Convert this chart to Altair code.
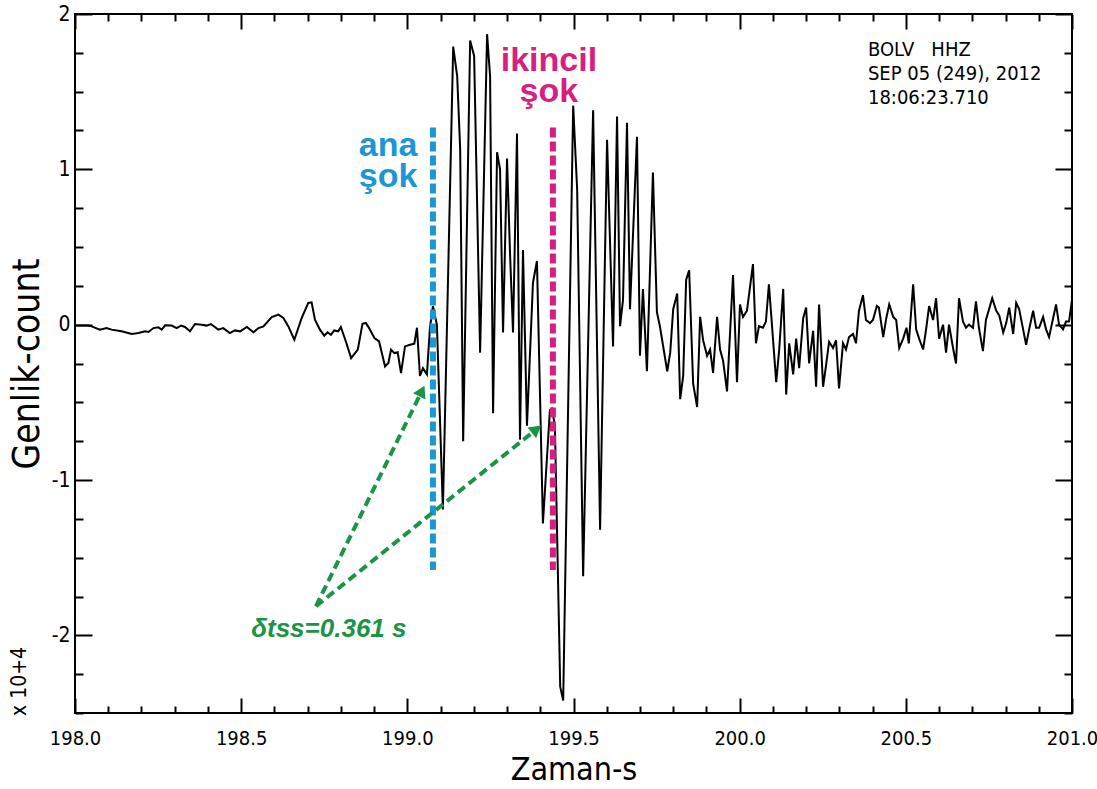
import math
import altair as alt
import pandas as pd

# Seismogram samples: time (s) and amplitude (x 10^4 counts)
TIME = [
    198.000, 198.040, 198.050, 198.075, 198.095, 198.110, 198.140, 198.171, 198.191, 198.211,
    198.221, 198.236, 198.251, 198.261, 198.271, 198.291, 198.306, 198.319, 198.331, 198.346,
    198.361, 198.381, 198.396, 198.409, 198.431, 198.446, 198.466, 198.481, 198.497, 198.517,
    198.537, 198.552, 198.567, 198.592, 198.612, 198.627, 198.642, 198.660, 198.682, 198.702,
    198.712, 198.722, 198.737, 198.750, 198.760, 198.770, 198.780, 198.792, 198.800, 198.815,
    198.831, 198.851, 198.865, 198.875, 198.885, 198.901, 198.915, 198.933, 198.943, 198.951,
    198.961, 198.971, 198.981, 198.993, 199.008, 199.021,
    199.029, 199.038, 199.047, 199.059, 199.068, 199.077, 199.089, 199.107, 199.138, 199.150,
    199.159, 199.168, 199.189, 199.201, 199.219, 199.240, 199.249, 199.258, 199.270, 199.279,
    199.288, 199.300, 199.309, 199.318, 199.330, 199.339, 199.348, 199.360, 199.378, 199.390,
    199.408, 199.429, 199.435, 199.444, 199.460, 199.469, 199.499, 199.511, 199.529, 199.559,
    199.580, 199.601, 199.619, 199.631, 199.640, 199.649, 199.661, 199.670, 199.691, 199.700,
    199.709, 199.721, 199.739, 199.751, 199.760, 199.782, 199.791, 199.800, 199.812, 199.821,
    199.830, 199.839, 199.848, 199.860, 199.872, 199.881, 199.890, 199.902, 199.911, 199.920,
    199.932, 199.941, 199.950, 199.962, 199.980, 199.992, 200.001, 200.010, 200.022, 200.040,
    200.049,
    200.058, 200.070, 200.079, 200.088, 200.110, 200.119, 200.131, 200.140, 200.149, 200.161,
    200.170, 200.179, 200.191, 200.200, 200.209, 200.221, 200.230, 200.239, 200.251, 200.260,
    200.269, 200.281, 200.290, 200.299, 200.311, 200.320, 200.329, 200.341, 200.350, 200.359,
    200.371, 200.380, 200.392, 200.401, 200.413, 200.419, 200.432, 200.441, 200.450, 200.462,
    200.471, 200.480, 200.492, 200.502, 200.509, 200.522, 200.531, 200.540, 200.552, 200.561,
    200.570, 200.582, 200.591, 200.600, 200.612, 200.621, 200.630, 200.642, 200.651, 200.660,
    200.672, 200.681, 200.690, 200.702, 200.711, 200.720, 200.732, 200.741, 200.760, 200.772,
    200.781, 200.793, 200.802, 200.811, 200.823, 200.832, 200.841, 200.862, 200.871, 200.883,
    200.892, 200.901, 200.913, 200.922, 200.931, 200.952, 200.961, 200.973, 200.982, 200.991,
    201.000,
]
AMP = [
    -0.006, -0.006, -0.011, -0.032, -0.022, -0.032, -0.043, -0.060, -0.054, -0.043,
    -0.047, -0.022, -0.017, -0.032, -0.004, -0.006, -0.022, -0.006, -0.015, -0.043,
    0.004, 0.000, -0.006, 0.004, -0.032, -0.022, -0.054, -0.037, -0.043, -0.015,
    -0.049, -0.022, -0.011, 0.049, 0.065, 0.043, -0.011, -0.097, 0.043, 0.140,
    0.144, 0.032, -0.032, -0.071, -0.049, -0.065, -0.037, -0.043, -0.015, -0.108,
    -0.215, -0.161, 0.006, 0.011, -0.022, -0.086, -0.108, -0.269, -0.247, -0.161,
    -0.183, -0.178, -0.312, -0.140, -0.129, -0.123,
    -0.02, -0.33, -0.28, -0.32, -0.02, 0.12, 0.00, -1.19, 1.79, 1.60,
    1.13, -0.75, 1.83, 1.73, -0.18, 1.87, 1.60, -0.57, 1.11, 1.00,
    -0.05, 1.07, 0.46, -0.05, 1.23, -0.74, 0.48, -0.65, 0.27, 0.41,
    -1.28, -0.55, -0.54, -0.65, -2.33, -2.42, 1.41, 0.87, -1.62, 1.38,
    -1.32, 1.19, -0.14, 1.34, -0.01, 0.16, 1.30, 0.10, 1.21, -0.20,
    0.23, -0.30, 0.98, 0.08, -0.01, -0.30, -0.18, 0.10, 0.20, -0.48,
    -0.33, 0.29, 0.35, -0.38, -0.53, 0.05, -0.10, -0.20, -0.16, -0.31,
    0.05, -0.16, -0.23, -0.43, 0.32, -0.37, 0.13, 0.05, 0.09, 0.39,
    -0.12,
    -0.01, -0.02, 0.02, 0.26, -0.37, -0.16, 0.23, -0.45, -0.12, -0.32,
    -0.09, -0.28, 0.04, 0.11, -0.25, -0.04, -0.40, 0.13, -0.40, -0.26,
    -0.11, -0.15, -0.10, -0.41, -0.12, -0.16, -0.08, -0.06, -0.12, 0.09,
    0.19, 0.03, 0.01, 0.03, 0.12, 0.11, -0.08, 0.04, 0.13, 0.05,
    0.03, -0.15, -0.09, -0.02, -0.12, 0.26, -0.03, -0.09, -0.16, -0.03,
    0.12, 0.03, 0.17, -0.09, 0.00, -0.18, 0.00, -0.15, -0.25, 0.17,
    0.02, -0.02, 0.00, -0.02, 0.15, -0.02, -0.17, 0.03, 0.17, 0.09,
    0.06, -0.05, 0.01, 0.11, -0.06, 0.14, 0.10, -0.13, -0.03, 0.09,
    -0.02, -0.02, 0.05, -0.03, -0.08, 0.13, 0.00, -0.03, 0.02, 0.02,
    0.16,
]

# Axis ranges and tick values
X_DOMAIN = [198.0, 201.0]
Y_DOMAIN = [-2.5, 2.0]
X_MAJOR = [198.0, 198.5, 199.0, 199.5, 200.0, 200.5, 201.0]
X_MINOR = [198.1, 198.2, 198.3, 198.4, 198.6, 198.7, 198.8, 198.9,
           199.1, 199.2, 199.3, 199.4, 199.6, 199.7, 199.8, 199.9,
           200.1, 200.2, 200.3, 200.4, 200.6, 200.7, 200.8, 200.9]
Y_MAJOR = [-2, -1, 0, 1, 2]
Y_MINOR = [-2.5, -2.25, -1.75, -1.5, -1.25, -0.75, -0.5, -0.25,
           0.25, 0.5, 0.75, 1.25, 1.5, 1.75]

# Shock picks
MAIN_SHOCK_T = 199.077
DELTA_TSS = 0.361
SECOND_SHOCK_T = MAIN_SHOCK_T + DELTA_TSS
PICK_TOP, PICK_BOTTOM = 1.27, -1.58

# Arrow origin and tips for the time-difference note
ARROW_ORIGIN = (198.725, -1.813)
ARROW_TIPS = [(199.053, -0.387), (199.405, -0.645)]

INFO_TEXT = "BOLV\u00a0\u00a0\u00a0HHZ\nSEP 05 (249), 2012\n18:06:23.710"

W, H = 997, 699
BLUE = "#1c96d4"
MAGENTA = "#d61f7f"
GREEN = "#1b9448"
NARROW = "Liberation Sans Narrow, DejaVu Sans Condensed, sans-serif"
BOLD = "Liberation Sans, Arial, sans-serif"
HYPHEN_LABEL = "replace(datum.label, '\u2212', '-')"

xs = alt.Scale(domain=X_DOMAIN, nice=False, zero=False)
ys = alt.Scale(domain=Y_DOMAIN, nice=False, zero=False)

trace_df = pd.DataFrame({"t": TIME, "amp": AMP})

trace = alt.Chart(trace_df).mark_line(color="black", strokeWidth=2).encode(
    x=alt.X("t:Q", scale=xs, axis=alt.Axis(
        orient="bottom", values=X_MAJOR, format=".1f", tickSize=0, domain=False,
        grid=False, labelFont=NARROW, labelFontSize=20, labelColor="black",
        labelPadding=15, labelFlush=False, title="Zaman-s", titleFont=NARROW,
        titleFontSize=32, titleFontWeight="normal", titleColor="black",
        titlePadding=6)),
    y=alt.Y("amp:Q", scale=ys, axis=alt.Axis(
        orient="left", values=Y_MAJOR, format="d", labelExpr=HYPHEN_LABEL,
        tickSize=0, domain=False, grid=False, labelFont=NARROW, labelFontSize=21,
        labelColor="black", labelPadding=5, labelFlush=False, title="Genlik-count",
        titleFont=NARROW, titleFontSize=37, titleFontWeight="normal",
        titleColor="black", titlePadding=5)),
)

anchor_df = pd.DataFrame({"t": X_DOMAIN, "amp": Y_DOMAIN})


def x_ticks(values, size, orient):
    # an axis pushed across the plot so its ticks point inward
    return alt.Chart(anchor_df).mark_point(opacity=0).encode(
        x=alt.X("t:Q", scale=xs, axis=alt.Axis(
            orient=orient, offset=-H, values=values, tickSize=size, tickWidth=2,
            tickColor="black", labels=False, domain=False, grid=False, title=None)),
        y=alt.Y("amp:Q", scale=ys, axis=None),
    )


def y_ticks(values, size, orient):
    return alt.Chart(anchor_df).mark_point(opacity=0).encode(
        x=alt.X("t:Q", scale=xs, axis=None),
        y=alt.Y("amp:Q", scale=ys, axis=alt.Axis(
            orient=orient, offset=-W, values=values, tickSize=size, tickWidth=2,
            tickColor="black", labels=False, domain=False, grid=False, title=None)),
    )


tick_layers = [
    x_ticks(X_MAJOR, 15, "top"), x_ticks(X_MINOR, 7, "top"),
    x_ticks(X_MAJOR, 15, "bottom"), x_ticks(X_MINOR, 7, "bottom"),
    y_ticks(Y_MAJOR, 17, "right"), y_ticks(Y_MINOR, 8, "right"),
    y_ticks(Y_MAJOR, 17, "left"), y_ticks(Y_MINOR, 8, "left"),
]

shock_color = alt.Color("kind:N", scale=alt.Scale(domain=["ana", "ikincil"],
                                                  range=[BLUE, MAGENTA]), legend=None)

picks_df = pd.DataFrame({
    "t": [MAIN_SHOCK_T, SECOND_SHOCK_T],
    "top": [PICK_TOP, PICK_TOP],
    "bottom": [PICK_BOTTOM, PICK_BOTTOM],
    "kind": ["ana", "ikincil"],
})
picks = alt.Chart(picks_df).mark_rule(strokeWidth=6, strokeDash=[10, 4]).encode(
    x=alt.X("t:Q", scale=xs, axis=None),
    y=alt.Y("top:Q", scale=ys, axis=None),
    y2="bottom:Q",
    color=shock_color,
)

# two-line pick labels, anchored at the first line's baseline
labels_df = pd.DataFrame({
    "t": [198.942, 199.426],
    "amp": [1.084, 1.632],
    "label": ["ana\nşok", "ikincil\nşok"],
    "kind": ["ana", "ikincil"],
})
pick_labels = alt.Chart(labels_df).mark_text(
    font=BOLD, fontWeight="bold", fontSize=34, align="center", baseline="alphabetic",
    lineBreak="\n", lineHeight=31
).encode(
    x=alt.X("t:Q", scale=xs, axis=None),
    y=alt.Y("amp:Q", scale=ys, axis=None),
    text="label:N",
    color=shock_color,
)

# dashed arrows from the note to both picks
sx = W / (X_DOMAIN[1] - X_DOMAIN[0])
sy = H / (Y_DOMAIN[1] - Y_DOMAIN[0])
arrow_rows, head_rows = [], []
for i, (tt, ta) in enumerate(ARROW_TIPS):
    dx = (tt - ARROW_ORIGIN[0]) * sx
    dy = (ta - ARROW_ORIGIN[1]) * sy
    length = math.hypot(dx, dy)
    ux, uy = dx / length, dy / length
    back = 7.0
    ht, ha = tt - back * ux / sx, ta - back * uy / sy
    arrow_rows.append({"arrow": i, "seq": 0, "t": ARROW_ORIGIN[0], "amp": ARROW_ORIGIN[1]})
    arrow_rows.append({"arrow": i, "seq": 1, "t": ht, "amp": ha})
    head_rows.append({"t": ht, "amp": ha, "rot": math.degrees(math.atan2(dx, dy))})

arrows = alt.Chart(pd.DataFrame(arrow_rows)).mark_line(
    color=GREEN, strokeWidth=4, strokeDash=[9, 5]
).encode(
    x=alt.X("t:Q", scale=xs, axis=None),
    y=alt.Y("amp:Q", scale=ys, axis=None),
    detail="arrow:N",
    order="seq:Q",
)
heads = alt.Chart(pd.DataFrame(head_rows)).mark_point(
    shape="triangle-up", filled=True, size=190, color=GREEN, opacity=1
).encode(
    x=alt.X("t:Q", scale=xs, axis=None),
    y=alt.Y("amp:Q", scale=ys, axis=None),
    angle=alt.Angle("rot:Q", scale=None),
)

note_df = pd.DataFrame({"t": [198.530], "amp": [-2.013],
                        "label": [f"δtss={DELTA_TSS:.3f} s"]})
note = alt.Chart(note_df).mark_text(
    font=BOLD, fontWeight="bold", fontStyle="italic", fontSize=26, color=GREEN,
    align="left", baseline="alphabetic"
).encode(
    x=alt.X("t:Q", scale=xs, axis=None),
    y=alt.Y("amp:Q", scale=ys, axis=None),
    text="label:N",
)

info_df = pd.DataFrame({"t": [200.386], "amp": [1.83], "label": [INFO_TEXT]})
info = alt.Chart(info_df).mark_text(
    font=NARROW, fontSize=20, color="black", align="left", baseline="top",
    lineBreak="\n", lineHeight=24
).encode(
    x=alt.X("t:Q", scale=xs, axis=None),
    y=alt.Y("amp:Q", scale=ys, axis=None),
    text="label:N",
)

scale_df = pd.DataFrame({"t": [197.836], "amp": [-2.297], "label": ["x 10+4"]})
scale_note = alt.Chart(scale_df).mark_text(
    font=NARROW, fontSize=21, color="black", angle=270, align="center", baseline="middle"
).encode(
    x=alt.X("t:Q", scale=xs, axis=None),
    y=alt.Y("amp:Q", scale=ys, axis=None),
    text="label:N",
)

chart = alt.layer(
    trace, picks, arrows, heads, pick_labels, note, info, scale_note, *tick_layers
).resolve_axis(
    x="independent", y="independent"
).properties(
    width=W, height=H,
    padding={"left": 75, "top": 14, "right": 25, "bottom": 76},
    autosize=alt.AutoSizeParams(type="none"),
).configure_view(
    stroke="black", strokeWidth=2
)

chart.save("out.html", embed_options={"renderer": "svg", "actions": False})
